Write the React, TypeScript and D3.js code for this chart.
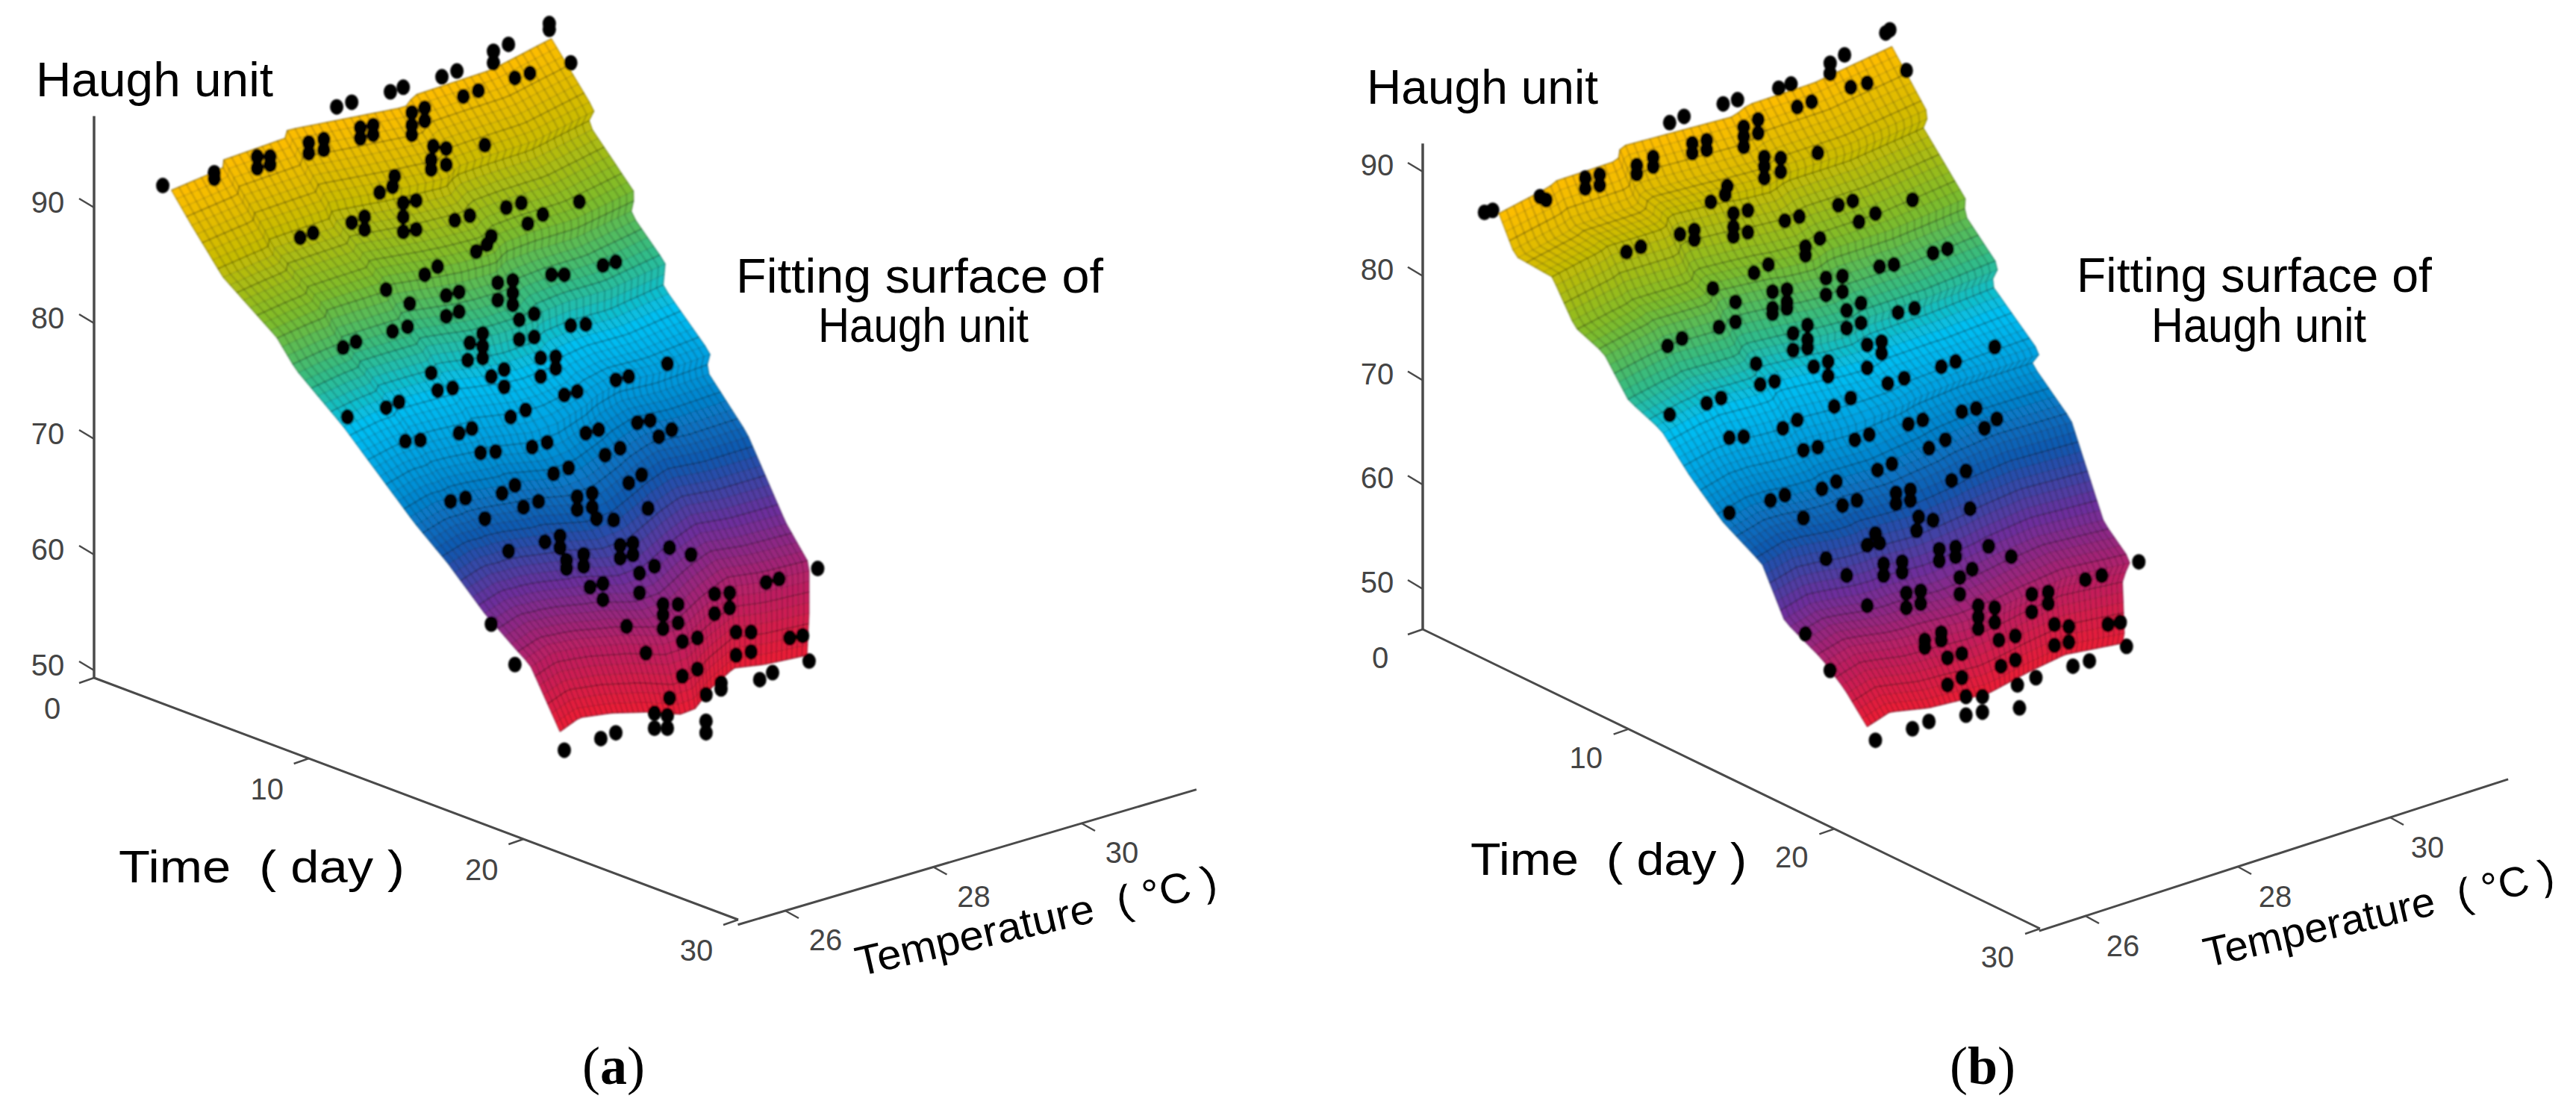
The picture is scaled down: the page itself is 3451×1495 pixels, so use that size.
import React from "react";
import * as d3 from "d3";

const haughTicks = [50, 60, 70, 80, 90];
const timeTicks = [0, 10, 20, 30];
const temperatureTicks = [26, 28, 30];
const colorHaugh = [58, 62.4, 66.1, 69.8, 74.6, 78.4, 82, 85.8, 90.6, 95];
const colorRamp = ["#ee1c34", "#b5206a", "#6e2f9c", "#1058b0", "#0098dc", "#00c0f4", "#34bc84", "#7cbc2c", "#ccbc00", "#ffbd00"];

type P = [number, number];
// Surface outline and sample points: [time reading, Haugh reading] against the drawn axes.
const topEdgeA: P[] = [[3.6,91.5],[6,93.4],[6,94.1],[8.9,96],[9,96.7],[14.5,98.7],[14.9,99.7],[18.5,101.9],[21.3,104.6]];
const rightEdgeA: P[] = [[21.3,104.6],[23.3,98.4],[23,97.3],[25.2,91.2],[25,89.5],[26.6,85.2],[26.5,83.2],[28.7,77.4],[28.5,76],[30.4,70.5],[32.2,62.8],[33.3,59.2],[33.3,54.9],[33.2,51.3]];
const bottomEdgeA: P[] = [[21.7,44.7],[22.6,45.9],[24.1,46.3],[25.8,46.4],[27.3,46.2],[28,46.7],[28.7,48.4],[29.8,50.2],[31.2,50.5],[33.2,51.3]];
const leftEdgeA: P[] = [[3.6,91.5],[4.5,88.6],[6,84],[8.5,78.8],[9.4,76],[11.6,71.1],[14.9,62.8],[16.5,59.2],[18.2,54.9],[19.7,51.7],[20.3,50.5],[21.7,44.7]];

const topEdgeB: P[] = [[3.7,86],[6.2,88.6],[6.3,89],[9.5,91.1],[9.6,92.4],[15.1,95.3],[15.8,96.4],[19,98.5],[22.8,102]];
const rightEdgeB: P[] = [[22.8,102],[24.6,95.4],[24.3,94.3],[26.4,87.3],[26.3,86],[28,80.9],[27.6,79.3],[30,72.6],[29.6,71.6],[31.5,66.2],[33.1,56.4],[34.4,52.7],[34,50.9],[34.1,45.5],[34,44.8]];
const bottomEdgeB: P[] = [[21.6,36.8],[22.7,38.2],[24.6,38.6],[27.5,40],[29.4,42],[31.2,43.7],[34,44.8]];
const leftEdgeB: P[] = [[3.7,86],[4.5,81.9],[6.3,79.9],[7.4,75.1],[8.8,72.6],[10,68.1],[11.6,65.2],[13,60.8],[14.6,56.4],[16.5,52.4],[17.6,46.9],[19.4,43.3],[20.5,40.4],[21.6,36.8]];

const samplesA: P[] = [[3.2,91.9],[5.6,93],[5.6,92.5],[7.6,94.4],[7.6,93.4],[8.2,94.4],[8.2,93.7],[10,95.6],[10,94.7],[10.7,95.9],[10.7,95],[11.3,98.7],[12,99.1],[12.4,96.9],[12.4,96],[13,97.1],[13,96.3],[13.8,100],[14.4,100.4],[14.8,98.2],[14.8,97.1],[14.8,96.3],[15.4,98.6],[15.4,97.5],[16.2,101.3],[16.9,101.8],[15.8,95.3],[15.7,94.1],[15.7,93.3],[16.4,95.1],[16.4,93.7],[17.2,99.6],[17.9,100.1],[18.2,95.4],[18.6,103.5],[18.6,102.5],[19.3,104.1],[19.6,101.2],[20.3,101.6],[21.2,105.9],[21.2,105.4],[22.2,102.5],
[14,92.7],[13.9,91.8],[13.3,91.3],[14.4,90.4],[14.4,89.2],[14.4,87.9],[15,90.6],[15,88.1],[12.6,89.2],[12.6,88.1],[12,88.7],[9.6,87.4],[10.2,87.8],[16.8,88.9],[17.5,89.3],[19.2,90],[19.9,90.4],[20.9,89.4],[20.2,88.6],[22.6,90.5],[18.5,87.5],[18.3,86.8],[17.8,86.2],[16,84.9],[15.4,84.2],[13.6,82.9],[14.7,81.7],[16.4,82.4],[17,82.7],[16.4,80.6],[17,81],[18.8,83.5],[19.5,83.7],[18.8,82],[19.5,82.6],[19.5,81.6],[21.3,84.2],[21.9,84.2],[23.7,85],[24.3,85.3],[19.8,80.3],[20.5,80.8],[22.2,79.8],[22.9,79.9],[14.6,79.7],[13.9,79.3],[11.6,77.9],[12.2,78.4],[18.1,79.1],[18.1,78],[17.5,78.3],[17.4,76.8],[18.1,77],[19.8,78.6],[20.5,78.8],[20.8,77],[20.8,75.4],[21.5,77.1],[21.5,76.1],[26.7,76.5],[15.7,75.7],[18.5,75.4],[19.1,76],[19.1,74.5],[16,74.2],[16.7,74.4],[24.3,75.1],[24.9,75.4],[21.9,73.8],[22.5,74.1],[14.2,73.2],[13.6,72.7],[19.4,71.9],[20.1,72.5],[11.8,71.9],[17.6,70.9],[17,70.5],[15.2,69.9],[14.5,69.8],[18,68.8],[18.7,68.9],[20.4,69.3],[21.1,69.7],[22.9,70.5],[23.5,70.8],[25.3,71.4],[25.9,71.6],[26.3,70.2],[26.9,70.8],[23.8,68.6],[24.5,69.2],[21.4,67],[22.1,67.5],[19.6,66],[19,65.3],[24.9,66.2],[25.5,66.9],[16.6,64.6],[17.3,64.9],[22.5,65],[23.2,65.3],[22.5,63.9],[23.2,64.1],[20,64.1],[20.7,64.6],[18.2,63.1],[25.8,64],[23.4,63.1],[24.2,63],
[19.3,60.3],[21,61.1],[21.7,61.6],[21.7,60.6],[22,59.5],[22,58.8],[22.8,60],[22.8,59],[24.5,60.8],[24.5,59.7],[25.1,61],[25.1,60],[26.8,60.6],[27.8,60],[26.1,59],[25.4,58.4],[25.4,56.7],[23.1,57.2],[23.7,57.5],[23.7,56.1],[33.7,58.8],[31.3,57.6],[31.9,57.9],[28.9,56.6],[29.6,56.7],[28.9,54.9],[29.6,55.4],[26.5,55.7],[26.5,54.8],[26.5,53.6],[27.2,55.7],[27.2,54.1],[24.8,53.8],[29.9,53.3],[29.9,51.3],[30.6,53.3],[30.6,51.6],[32.4,52.8],[33,53],[27.4,52.5],[28.1,52.8],[25.7,51.5],[18.5,54],[19.6,50.5],[33.3,50.8],[27.4,49.5],[28.1,50.1],[31.6,49.8],[31,49.2],[28.5,47.9],[29.2,48.4],[29.2,48.9],[26.8,47.6],[26.1,46.3],[26.7,46.1],[26.1,45],[26.7,45],[28.5,45.6],[28.5,44.6],[24.3,44.6],[23.6,44.1],[21.9,43.1]];

const samplesB: P[] = [[3,86.1],[3.4,86.3],[5.7,87.6],[6,87.3],[7.9,89.4],[7.9,88.4],[8.6,89.7],[8.6,88.7],[10.4,90.6],[10.4,89.8],[11.2,91.4],[11.2,90.5],[12,94.7],[12.7,95.3],[13.1,92.7],[13.1,91.8],[13.8,93],[13.8,92.1],[14.6,96.5],[15.3,96.9],[15.6,94.3],[15.6,93.4],[15.6,92.4],[16.3,95],[16.3,93.7],[17.3,98],[17.9,98.4],[18.2,96.2],[18.9,96.7],[16.6,91.4],[16.6,90.5],[16.6,89.4],[17.4,91.3],[17.4,90],[19.2,91.8],[19.8,100.4],[19.8,99.4],[20.5,101.2],[20.8,98.1],[21.6,98.5],[22.5,103.3],[22.7,103.6],[23.5,99.7],
[14.8,88.6],[14.7,87.8],[14,87.1],[15.1,86],[15.1,84.7],[15.1,83.8],[15.8,86.3],[15.8,84.2],[13.2,84.4],[13.2,83.5],[12.5,84],[9.9,82.3],[10.6,82.8],[17.6,85.3],[18.3,85.7],[20.2,86.8],[20.9,87.2],[22,86],[21.2,85.2],[23.8,87.3],[19.3,83.6],[18.6,82.8],[18.6,82],[16.8,81.1],[16.1,80.3],[22.2,80.9],[22.9,81.1],[24.8,82.2],[25.5,82.6],[14.1,78.8],[15.2,77.5],[17,78.5],[17.7,78.7],[17,76.9],[17.7,77.5],[17,76.4],[17.7,76.9],[19.6,79.8],[20.4,80],[19.6,78.2],[20.4,78.5],[20.6,76.7],[21.3,77.4],[23.1,76.5],[23.9,76.9],[15.2,75.6],[14.4,75.1],[11.9,73.3],[12.6,74],[18.7,75.3],[18.7,73.9],[18,74.5],[18.7,73.1],[18,72.9],[20.6,75],[21.3,75.5],[21.6,73.4],[21.6,71.2],[22.3,73.7],[22.3,72.6],[27.8,73.2],[16.2,71.6],[19,71.3],[19.7,71.8],[19.7,70.4],[16.4,69.6],[17.1,69.9],[25.2,71.3],[25.9,71.8],[22.6,69.7],[23.4,70.2],[14.5,68.3],[13.8,67.8],[20,67.5],[20.8,68.3],[12,66.7],[18.2,66.2],[17.5,65.4],[15.6,64.6],[14.9,64.5],[18.5,63.3],[19.2,63.6],[21,64.3],[21.7,64.8],[23.6,65.8],[24.3,66.2],[26.2,67],[26.9,67.3],[27.3,65.4],[27.9,66.3],[24.6,63.5],[25.4,64.3],[22.1,61.4],[22.8,62],[20.1,60.3],[19.4,59.6],[25.7,60.4],[26.4,61.3],[16.9,58.5],[17.6,59],[23,59.2],[23.7,59.5],[23,58.2],[23.7,58.5],[20.4,58],[21.1,58.5],[14.9,57.3],[18.5,56.8],[26.6,57.7],[24.1,56.9],[24.8,56.6],
[19.6,52.9],[22,55.3],[21.6,54.2],[22.2,54.4],[24,55.6],[22.4,52.4],[23.3,52.6],[22.4,51.3],[23.3,51.6],[25.1,53.8],[25.1,52.7],[25.9,54],[25.9,53.1],[27.5,54.1],[28.6,53.1],[26.7,51.9],[26.1,51.1],[26.1,49.5],[23.5,49.6],[24.2,49.8],[23.5,48.2],[24.2,48.6],[20.6,51.3],[21.6,48.4],[34.8,52.6],[32.2,50.9],[33,51.3],[29.6,49.5],[30.4,49.7],[29.6,47.8],[30.4,48.6],[27,48.4],[27,47.3],[27,46.2],[27.8,48.2],[27.8,46.8],[33.3,46.6],[33.9,46.8],[30.7,46.6],[30.7,44.6],[31.4,46.4],[31.4,44.9],[24.4,45.1],[24.4,44.4],[25.2,45.8],[25.2,45.1],[28,45.1],[28.8,45.5],[25.5,43.4],[26.2,43.8],[28.1,42.6],[28.8,43.2],[18.6,45.7],[19.8,42.2],[34.2,44.5],[25.5,40.8],[26.2,41.5],[28.9,40.8],[29.8,41.5],[31.6,42.6],[32.4,43.1],[26.4,39.7],[27.2,39.7],[26.4,37.9],[27.2,38.2],[29,38.6],[23.8,36.6],[24.6,37.3],[22,35.5]];

const ROWS = 66;
const COLS = 52;
const colorOf = d3.scaleLinear<string>().domain(colorHaugh).range(colorRamp).interpolate(d3.interpolateRgb).clamp(true);
const haughAlong = d3.scaleLinear().domain([0, 1]).range([95, 58]);

function sampler(pts: [number, number][]) {
  const lens = [0];
  for (let i = 1; i < pts.length; i++) lens.push(lens[i - 1] + Math.hypot(pts[i][0] - pts[i - 1][0], pts[i][1] - pts[i - 1][1]));
  const total = lens[lens.length - 1];
  return (f: number): [number, number] => {
    const d = f * total;
    let i = d3.bisectRight(lens, d) - 1;
    i = Math.max(0, Math.min(pts.length - 2, i));
    const k = (d - lens[i]) / (lens[i + 1] - lens[i]);
    return [pts[i][0] + k * (pts[i + 1][0] - pts[i][0]), pts[i][1] + k * (pts[i + 1][1] - pts[i][1])];
  };
}

// edge detail fades quickly away from the boundary of the patch
const fade = (x: number) => 0.5 + 0.5 * Math.sign(2 * x - 1) * Math.sqrt(Math.abs(2 * x - 1));

function Surface({ cfg }: { cfg: any }) {
  const px = d3.scaleLinear().domain([0, 30]).range(cfg.timeX);
  const py = d3.scaleLinear().domain([50, 90]).range(cfg.haughY);
  const toS = (p: P): [number, number] => [px(p[0]), py(p[1])];
  const top = sampler(cfg.top.map(toS));
  const bot = sampler(cfg.bottom.map(toS));
  const lef = sampler(cfg.left.map(toS));
  const rig = sampler(cfg.right.map(toS));
  const c00 = top(0), c10 = top(1), c01 = bot(0), c11 = bot(1);
  const S = (u: number, v: number): [number, number] => {
    const t = top(u), b = bot(u), l = lef(v), r = rig(v);
    const g = fade(v), h = fade(u);
    const f = (i: number) =>
      (1 - g) * t[i] + g * b[i] + (1 - h) * l[i] + h * r[i] -
      ((1 - h) * (1 - g) * c00[i] + h * (1 - g) * c10[i] + (1 - h) * g * c01[i] + h * g * c11[i]);
    return [f(0), f(1)];
  };
  const cells: React.ReactElement[] = [];
  for (let j = 0; j < ROWS; j++) {
    for (let i = 0; i < COLS; i++) {
      const u0 = i / COLS, u1 = (i + 1) / COLS, v0 = j / ROWS, v1 = (j + 1) / ROWS;
      const q = [S(u0, v0), S(u1, v0), S(u1, v1), S(u0, v1)];
      const d = "M" + q.map((p) => p[0].toFixed(1) + "," + p[1].toFixed(1)).join("L") + "Z";
      const c = colorOf(haughAlong((v0 + v1) / 2));
      cells.push(<path key={j + "-" + i} d={d} fill={c} stroke={c} strokeWidth={0.6} />);
    }
  }
  const rowLines: React.ReactElement[] = [];
  const line = d3.line();
  for (let j = 0; j <= ROWS; j++) {
    const pts = d3.range(COLS + 1).map((i) => S(i / COLS, j / ROWS));
    rowLines.push(<path key={"r" + j} d={line(pts) as string} fill="none" stroke="#000" strokeOpacity={j % 3 === 0 ? 0.28 : 0.13} strokeWidth={j % 3 === 0 ? 2 : 1.6} />);
  }
  for (let i = 0; i <= COLS; i++) {
    const pts = d3.range(ROWS + 1).map((j) => S(i / COLS, j / ROWS));
    rowLines.push(<path key={"c" + i} d={line(pts) as string} fill="none" stroke="#000" strokeOpacity={0.17} strokeWidth={2.4} />);
  }
  return (
    <g filter="url(#soft)">
      {cells}
      {rowLines}
      {cfg.samples.map((p: P, i: number) => (
        <ellipse key={"d" + i} cx={px(p[0])} cy={py(p[1])} rx={9} ry={10.5} fill="#000" />
      ))}
    </g>
  );
}

function Panel({ cfg }: { cfg: any }) {
  const zY = d3.scaleLinear().domain([50, 90]).range(cfg.haughY);
  const tX = d3.scaleLinear().domain([0, 30]).range(cfg.timeX);
  const tY = d3.scaleLinear().domain([0, 30]).range(cfg.timeY);
  const cX = d3.scaleLinear().domain([26, 30]).range(cfg.tempX);
  const cY = d3.scaleLinear().domain([26, 30]).range(cfg.tempY);
  const ax = cfg.axisColor;
  const tickFont = { fontFamily: "'Liberation Sans', Arial, sans-serif", fontSize: 40, fill: "#444" };
  const labFont = { fontFamily: "'Liberation Sans', Arial, sans-serif", fill: "#000" };
  return (
    <g>
      <Surface cfg={cfg} />
      <line x1={tX(0)} y1={zY(cfg.zExtent[0])} x2={tX(0)} y2={zY(cfg.zExtent[1])} stroke={ax} strokeWidth={3.5} />
      <line x1={tX(0)} y1={tY(0)} x2={tX(30)} y2={tY(30)} stroke={ax} strokeWidth={3} />
      <line x1={cX(cfg.tempExtent[0])} y1={cY(cfg.tempExtent[0])} x2={cX(cfg.tempExtent[1])} y2={cY(cfg.tempExtent[1])} stroke={ax} strokeWidth={3} />
      {haughTicks.map((h) => (
        <g key={"z" + h}>
          <line x1={tX(0)} y1={zY(h)} x2={tX(0) - 20} y2={zY(h) - 12} stroke={ax} strokeWidth={2.5} />
          <text x={tX(0) + cfg.zLabel[0]} y={zY(h) + cfg.zLabel[1]} textAnchor="middle" dominantBaseline="central" {...tickFont}>{h}</text>
        </g>
      ))}
      {timeTicks.map((t) => (
        <g key={"t" + t}>
          <line x1={tX(t)} y1={tY(t)} x2={tX(t) - 20} y2={tY(t) + 7} stroke={ax} strokeWidth={2.5} />
          <text x={tX(t) + cfg.tLabel[0]} y={tY(t) + cfg.tLabel[1]} textAnchor="middle" dominantBaseline="central" {...tickFont}>{t}</text>
        </g>
      ))}
      {temperatureTicks.map((c) => (
        <g key={"c" + c}>
          <line x1={cX(c)} y1={cY(c)} x2={cX(c) + 18} y2={cY(c) + 10} stroke={ax} strokeWidth={2.5} />
          <text x={cX(c) + cfg.cLabel[0]} y={cY(c) + cfg.cLabel[1]} textAnchor="middle" dominantBaseline="central" {...tickFont}>{c}</text>
        </g>
      ))}
      <text x={cfg.zTitle[0]} y={cfg.zTitle[1]} fontSize={64} textLength={cfg.zTitle[2]} lengthAdjust="spacingAndGlyphs" {...labFont}>Haugh unit</text>
      <text x={cfg.fit[0]} y={cfg.fit[1]} fontSize={64} textLength={cfg.fit[2]} lengthAdjust="spacingAndGlyphs" {...labFont}>Fitting surface of</text>
      <text x={cfg.fit2[0]} y={cfg.fit2[1]} fontSize={64} textLength={cfg.fit2[2]} lengthAdjust="spacingAndGlyphs" {...labFont}>Haugh unit</text>
      <text x={cfg.timeTitle[0]} y={cfg.timeTitle[1]} fontSize={62} textLength={cfg.timeTitle[2]} lengthAdjust="spacingAndGlyphs" xmlSpace="preserve" {...labFont}>{"Time  ( day )"}</text>
      <text transform={`translate(${cfg.tempTitle[0]},${cfg.tempTitle[1]}) rotate(-13)`} fontSize={56} textLength={cfg.tempTitle[2]} lengthAdjust="spacingAndGlyphs" xmlSpace="preserve" {...labFont}>{"Temperature  ( °C )"}</text>
      <text x={cfg.caption[0]} y={1452} textAnchor="middle" fontSize={72} fontFamily="'Liberation Serif', serif" fill="#000">
        (<tspan fontWeight="bold">{cfg.caption[1]}</tspan>)
      </text>
    </g>
  );
}

const panelA = {
  top: topEdgeA, right: rightEdgeA, bottom: bottomEdgeA, left: leftEdgeA, samples: samplesA,
  timeX: [126, 989], timeY: [908, 1232], haughY: [898, 278], tempX: [1052, 1449], tempY: [1220, 1103],
  zExtent: [49.35, 97.9], tempExtent: [25.36, 31.55], axisColor: "#4a4a4a",
  zLabel: [-62, -7], tLabel: [-56, 41], cLabel: [54, 39],
  zTitle: [48, 129, 318], fit: [986, 392, 492], fit2: [1096, 458, 282],
  timeTitle: [159, 1182, 383], tempTitle: [1151, 1308, 495], caption: [822, "a"],
};
const panelB = {
  top: topEdgeB, right: rightEdgeB, bottom: bottomEdgeB, left: leftEdgeB, samples: samplesB,
  timeX: [1906, 2733], timeY: [843, 1244], haughY: [789, 230], tempX: [2794, 3202], tempY: [1227, 1095],
  zExtent: [46.1, 92.7], tempExtent: [25.39, 31.55], axisColor: "#4a4a4a",
  zLabel: [-61, -9], tLabel: [-57, 38], cLabel: [50, 40],
  zTitle: [1831, 139, 310], fit: [2782, 391, 476], fit2: [2882, 458, 288],
  timeTitle: [1970, 1172, 370], tempTitle: [2957, 1296, 480], caption: [2656, "b"],
};

export default function App() {
  return (
    <svg width={3451} height={1495} viewBox="0 0 3451 1495" style={{ position: "absolute", left: 0, top: 0, display: "block", background: "#fff" }}>
      <defs>
        <filter id="soft" x="-5%" y="-5%" width="110%" height="110%">
          <feGaussianBlur stdDeviation={0.8} />
        </filter>
      </defs>
      <Panel cfg={panelA} />
      <Panel cfg={panelB} />
    </svg>
  );
}
